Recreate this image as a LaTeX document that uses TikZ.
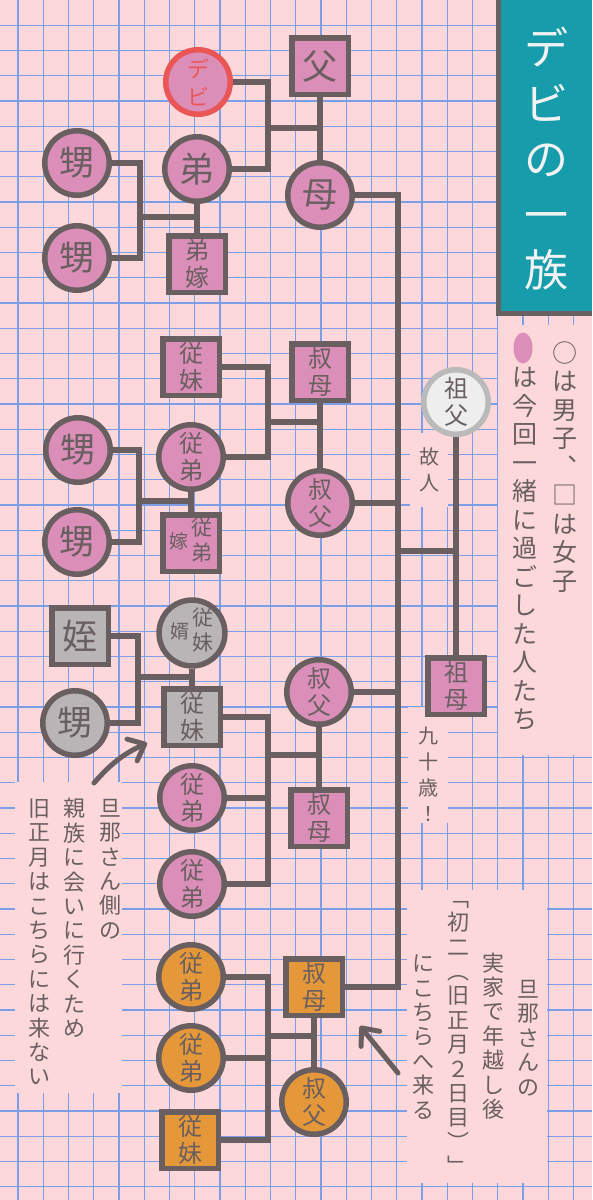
\documentclass[tikz,border=0pt]{standalone}
\usepackage{fontspec}
\setmainfont{Noto Sans CJK JP}
\usetikzlibrary{arrows.meta}

\definecolor{paper}{RGB}{253,216,218}
\definecolor{gridblue}{RGB}{122,158,232}
\definecolor{ink}{RGB}{106,95,96}
\definecolor{pinkfill}{RGB}{219,142,184}
\definecolor{orangefill}{RGB}{229,152,58}
\definecolor{grayfill}{RGB}{185,181,182}
\definecolor{ringred}{RGB}{234,86,86}
\definecolor{deadring}{RGB}{186,186,186}
\definecolor{deadfill}{RGB}{238,238,238}
\definecolor{titleteal}{RGB}{22,156,171}
\definecolor{titlewhite}{RGB}{242,242,242}

% 二文字＋一文字の横並び
\newcommand\sidestack[3]{\begin{tabular}{@{}c@{\,}c@{}}{\fontsize{19}{21}\selectfont #1}&\begin{tabular}{@{}c@{}}#2\\#3\end{tabular}\end{tabular}}

\begin{document}
\begin{tikzpicture}[x=1pt,y=-1pt,
    boy/.style={circle,draw=ink,line width=5.5pt,minimum size=64.5pt,inner sep=0pt,fill=pinkfill,text=ink,align=center},
    girl/.style={rectangle,draw=ink,line width=5.5pt,minimum size=56.5pt,inner sep=0pt,fill=pinkfill,text=ink,align=center},
    big/.style={font=\fontsize{35}{37}\selectfont},
    pair/.style={font=\fontsize{24}{27}\selectfont},
    mixed/.style={font=\fontsize{21}{24}\selectfont},
    away/.style={fill=grayfill},
    host/.style={fill=orangefill},
    link/.style={draw=ink,line width=5.5pt},
    pointer/.style={draw=ink,line width=5pt,line cap=round,-{Straight Barb[length=14pt,width=24pt,round]}},
    note/.style={text=ink,align=center,inner sep=0pt,font=\fontsize{22}{24.4}\selectfont},
    legend/.style={text=ink,align=center,inner sep=0pt,font=\fontsize{25}{28.5}\selectfont}]
  \useasboundingbox (0,0) rectangle (592,1200);
  % 方眼紙
  \fill[paper] (0,0) rectangle (592,1200);
  \foreach \k in {0,...,22}
    \draw[gridblue,line width=1.4pt] ({18+25.25*\k},0) -- ({18+25.25*\k},1200);
  \foreach \k in {1,...,47}
    \draw[gridblue,line width=1.4pt] (0,{25.25*\k}) -- (592,{25.25*\k});

  % タイトル
  \fill[titleteal] (498,0) rectangle (592,313);
  \draw[ink,line width=5pt] (498.5,0) -- (498.5,313.5) -- (592,313.5);
  \node[text=titlewhite,align=center,font=\fontsize{44}{55.5}\selectfont] (title) at (546,159) {デ\\ビ\\の\\一\\族};

  % 凡例
  \fill[paper] (498,325) rectangle (592,755);
  \fill[pinkfill] (523,348) ellipse [x radius=9.5pt,y radius=15.5pt];
  \node[legend] (legA) at (565,467) {○\\は\\男\\子\\︑\\□\\は\\女\\子};
  \node[legend] (legB) at (525,549) {は\\今\\回\\一\\緒\\に\\過\\ご\\し\\た\\人\\た\\ち};

  % 注記の下地
  \fill[paper] (410,433) rectangle (448,507);
  \fill[paper] (408,707) rectangle (448,823);
  \fill[paper] (15,782) rectangle (122,1093);
  \fill[paper] (407,890) rectangle (547,1183);

  % 祖父母
  \node[boy,fill=deadfill,draw=deadring,pair] (gf) at (456,402) {祖\\父};
  \node[girl,pair] (gm) at (456,686) {祖\\母};
  \node[note,font=\fontsize{20}{26}\selectfont] (deadnote) at (429,470) {故\\人};
  \node[note,font=\fontsize{20}{26}\selectfont] (agenote) at (428,774) {九\\十\\歳\\！};

  % デビの家
  \node[girl,big] (fa) at (320,66) {父};
  \node[boy,big] (mo) at (320,195) {母};
  \node[boy,draw=ringred,text=ringred,font=\fontsize{22}{28}\selectfont] (debi) at (198,82) {デ\\ビ};
  \node[boy,big] (bro) at (197,169) {弟};
  \node[girl,pair] (bwife) at (197,264) {弟\\嫁};
  \node[boy,big] (n1a) at (77,163) {甥};
  \node[boy,big] (n1b) at (77,258) {甥};

  % 叔母の家（一）
  \node[girl,pair] (aunt2) at (320,372) {叔\\母};
  \node[boy,pair] (uncle2) at (320,503) {叔\\父};
  \node[girl,pair] (cs2) at (191,367) {従\\妹};
  \node[boy,pair] (cb2) at (191,457) {従\\弟};
  \node[girl,mixed] (cbw2) at (191,543) {\sidestack{嫁}{従}{弟}};
  \node[boy,big] (n2a) at (78,450) {甥};
  \node[boy,big] (n2b) at (77,542) {甥};

  % 叔父の家（二）
  \node[boy,pair] (uncle3) at (319,692) {叔\\父};
  \node[girl,pair] (aunt3) at (319,818) {叔\\母};
  \node[boy,away,mixed] (csh3) at (192,633) {\sidestack{婿}{従}{妹}};
  \node[girl,away,pair] (cs3) at (192,717) {従\\妹};
  \node[boy,pair] (cb3a) at (192,798) {従\\弟};
  \node[boy,pair] (cb3b) at (192,884) {従\\弟};
  \node[girl,away,big] (niece) at (80,636) {姪};
  \node[boy,away,big] (n3) at (75,723) {甥};

  % 叔母の家（三）
  \node[girl,host,pair] (oaunt) at (314,987) {叔\\母};
  \node[boy,host,pair] (ouncle) at (314,1102) {叔\\父};
  \node[boy,host,pair] (ocb1) at (191,977) {従\\弟};
  \node[boy,host,pair] (ocb2) at (191,1058) {従\\弟};
  \node[girl,host,pair] (ocs) at (190,1140) {従\\妹};

  % 分岐点
  \coordinate (trunk) at (398,600);
  \coordinate (s1) at (268,128);
  \coordinate (k1) at (140,217);
  \coordinate (s2) at (268,422);
  \coordinate (k2) at (139,501);
  \coordinate (s3) at (268,755);
  \coordinate (k3) at (138,677);
  \coordinate (s4) at (268,1036);
  \coordinate (gj) at (456,551);

  % 線
  \draw[link] (fa.south) -- (mo.north);
  \draw[link] (debi.east) -| (s1) |- (bro.east);
  \draw[link] (s1) -- (s1 -| fa.south);
  \draw[link] (bro.south) -- (bwife.north);
  \draw[link] (n1a.east) -| (k1) |- (n1b.east);
  \draw[link] (k1) -- (k1 -| bro.south);

  \draw[link] (mo.east) -| (trunk) |- (oaunt.east);
  \draw[link] (uncle2.east) -- (uncle2.east -| trunk);
  \draw[link] (uncle3.east) -- (uncle3.east -| trunk);
  \draw[link] (gf.south) -- (gm.north);
  \draw[link] (gj -| trunk) -- (gj);

  \draw[link] (aunt2.south) -- (uncle2.north);
  \draw[link] (cs2.east) -| (s2) |- (cb2.east);
  \draw[link] (s2) -- (s2 -| aunt2.south);
  \draw[link] (cb2.south) -- (cbw2.north);
  \draw[link] (n2a.east) -| (k2) |- (n2b.east);
  \draw[link] (k2) -- (k2 -| cb2.south);

  \draw[link] (uncle3.south) -- (aunt3.north);
  \draw[link] (cs3.east) -| (s3) |- (cb3b.east);
  \draw[link] (cb3a.east) -- (cb3a.east -| s3);
  \draw[link] (s3) -- (s3 -| uncle3.south);
  \draw[link] (csh3.south) -- (cs3.north);
  \draw[link] (niece.east) -| (k3) |- (n3.east);
  \draw[link] (k3) -- (k3 -| cs3.north);

  \draw[link] (oaunt.south) -- (ouncle.north);
  \draw[link] (ocb1.east) -| (s4) |- (ocs.east);
  \draw[link] (ocb2.east) -- (ocb2.east -| s4);
  \draw[link] (s4) -- (s4 -| oaunt.south);

  % 注記
  \node[note] (leftA) at (110,869) {旦\\那\\さ\\ん\\側\\の};
  \node[note] (leftB) at (74,918) {親\\族\\に\\会\\い\\に\\行\\く\\た\\め};
  \node[note] (leftC) at (39,942) {旧\\正\\月\\は\\こ\\ち\\ら\\に\\は\\来\\な\\い};
  \coordinate (a1s) at (94,783);
  \coordinate (a1e) at (147,743);
  \draw[pointer] (a1s) to[bend left=12] (a1e);

  \node[note] (rightA) at (528,1038) {旦\\那\\さ\\ん\\の};
  \node[note] (rightB) at (493,1036) {実\\家\\で\\年\\越\\し\\後};
  \node[note] (rightC) at (458,1038) {﹁\\初\\二\\︵\\旧\\正\\月\\２\\日\\目\\︶\\﹂};
  \node[note] (rightD) at (423,1037) {に\\こ\\ち\\ら\\へ\\来\\る};
  \coordinate (a2s) at (398,1073);
  \coordinate (a2e) at (360,1026);
  \draw[pointer] (a2s) -- (a2e);
\end{tikzpicture}
\end{document}
